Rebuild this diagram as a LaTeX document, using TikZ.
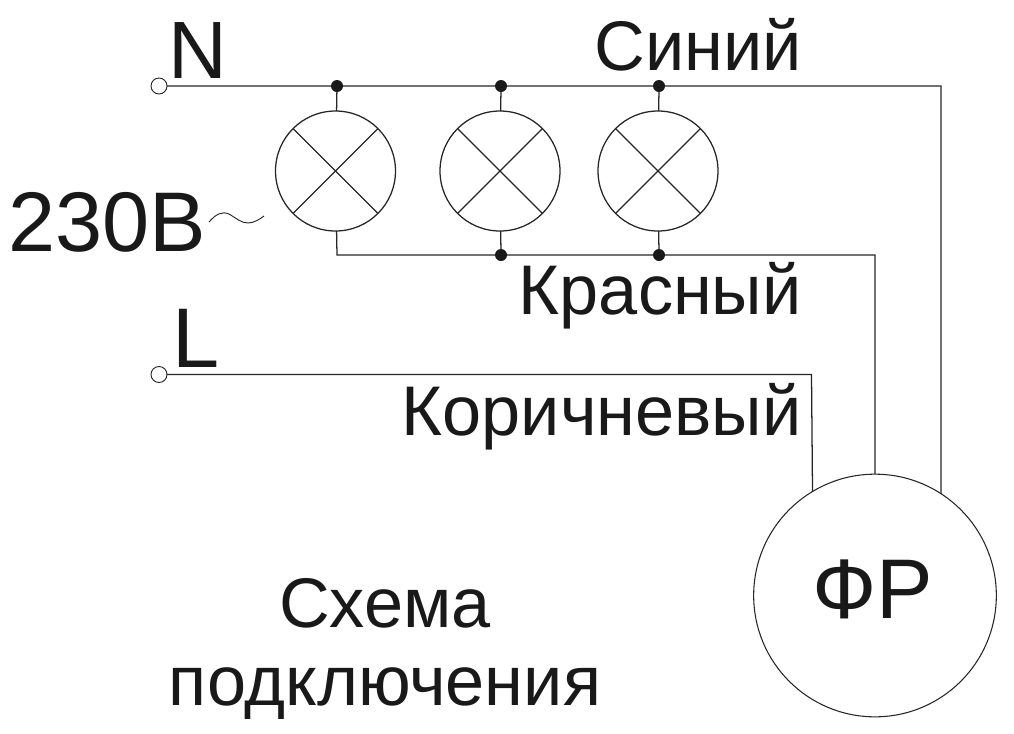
\documentclass[tikz,border=0pt]{standalone}
\usepackage{fontspec}
\setmainfont{Liberation Sans}
\tikzset{
  wire/.style={line width=0.95pt,color=black!85},
  lamp/.style={circle,draw=black!85,line width=0.95pt,minimum size=90pt,inner sep=0pt,outer sep=0pt},
  term/.style={circle,draw=black!85,line width=0.7pt,minimum size=12pt,inner sep=0pt,outer sep=0pt},
  dot/.style={circle,fill=black!90,minimum size=9pt,inner sep=0pt,outer sep=0pt},
  relay/.style={circle,draw=black!85,line width=0.8pt,minimum size=182pt,inner sep=0pt,outer sep=0pt},
  big/.style={inner sep=0pt,text=black!90,font=\fontsize{52.7pt}{52.7pt}\selectfont},
  large/.style={inner sep=0pt,text=black!90,font=\fontsize{63.5pt}{63.5pt}\selectfont},
}
\begin{document}
\begin{tikzpicture}[x=0.75pt,y=-0.75pt]
\useasboundingbox (0,0) rectangle (1014,733);
\node[term] (tn) at (159,86) {};
\node[term] (tl) at (159,374.5) {};
\node[lamp] (l1) at (335.5,171) {};
\node[lamp] (l2) at (500,171) {};
\node[lamp] (l3) at (658,171) {};
\node[relay] (fr) at (875,595.5) {};
\node[dot] (d1) at (337,86) {};
\node[dot] (d2) at (501,86) {};
\node[dot] (d3) at (659,86) {};
\node[dot] (d4) at (501,255) {};
\node[dot] (d5) at (659,255) {};
\coordinate (c1) at (941,86);
\coordinate (c2) at (337,255);
\coordinate (c3) at (875,255);
\coordinate (c4) at (811.5,374.5);
% wires
\draw[wire] (tn) -- (d1) -- (d2) -- (d3) -- (c1) -- (fr.57.05);
\draw[wire] (l1) -- (c2) -- (d4) -- (d5) -- (c3) -- (fr.90);
\draw[wire] (tl) -- (c4) -- (fr.121.56);
\draw[wire] (d1) -- (l1);
\draw[wire] (d2) -- (l2);
\draw[wire] (d3) -- (l3);
\draw[wire] (l2) -- (d4);
\draw[wire] (l3) -- (d5);
% lamp crosses
\foreach \l in {l1,l2,l3}{
  \draw[wire] (\l.45) -- (\l.225);
  \draw[wire] (\l.135) -- (\l.315);
}
% tilde
\draw[wire,line width=0.7pt] (209,222) .. controls (216,214) and (222,211) .. (229,214)
  .. controls (236,218) and (241,223) .. (248,223)
  .. controls (254,223) and (260,219) .. (264,216);
% labels
\node[large,font=\fontsize{61pt}{61pt}\selectfont,anchor=base west] (n) at (168,78) {N};
\node[large,anchor=base west] (ll) at (172,367) {L};
\node[large,anchor=base west] (v) at (8,251) {230В};
\node[big,anchor=base east] (t1) at (802,70) {Синий};
\node[big,anchor=base east] (t2) at (802,314) {Красный};
\node[big,anchor=base east] (t3) at (802,435) {Коричневый};
\node[large,anchor=base] (t4) at (873,618) {ФР};
\node[big,anchor=base] (t5) at (385,627) {Схема};
\node[big,anchor=base] (t6) at (385,705) {подключения};
\end{tikzpicture}
\end{document}
